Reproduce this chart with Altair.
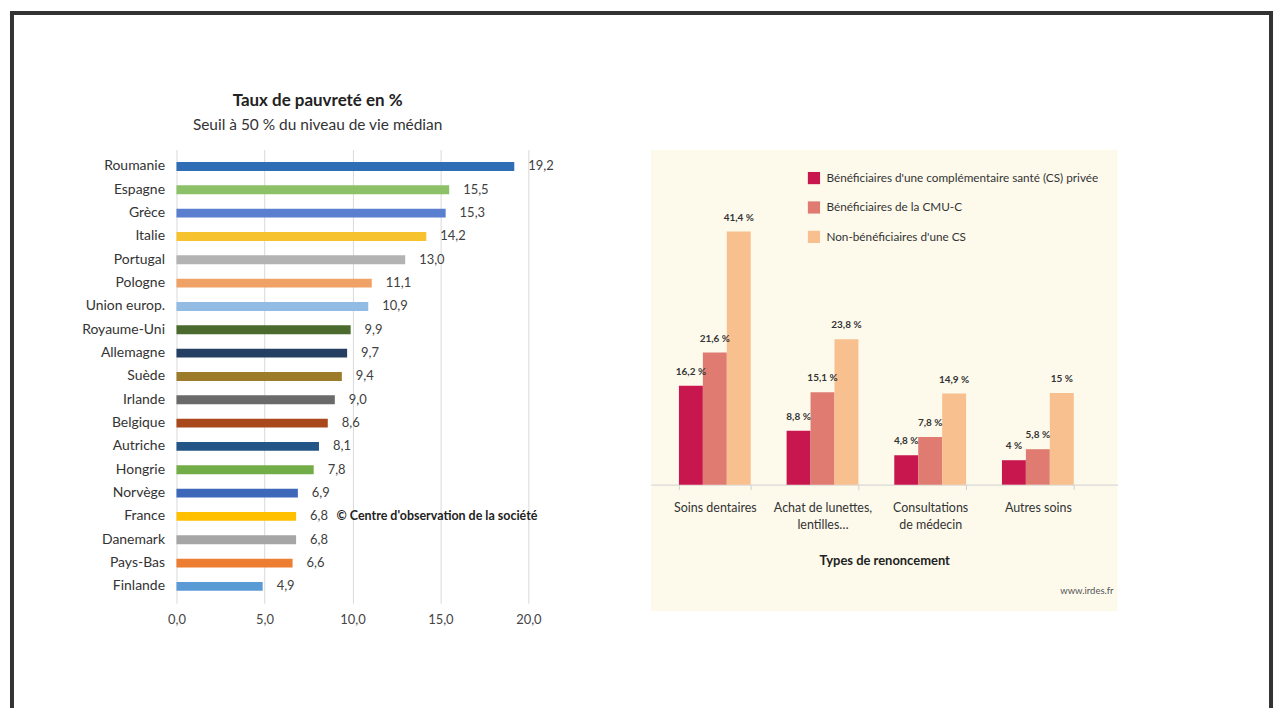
import altair as alt
import pandas as pd

# ---------------- Left chart data ----------------
countries = ["Roumanie", "Espagne", "Grèce", "Italie", "Portugal", "Pologne",
             "Union europ.", "Royaume-Uni", "Allemagne", "Suède", "Irlande",
             "Belgique", "Autriche", "Hongrie", "Norvège", "France", "Danemark",
             "Pays-Bas", "Finlande"]
poverty = [19.2, 15.5, 15.3, 14.2, 13.0, 11.1, 10.9, 9.9, 9.7, 9.4, 9.0,
           8.6, 8.1, 7.8, 6.9, 6.8, 6.8, 6.6, 4.9]
bar_colors = ["#2f6db5", "#8cc168", "#5b7fcf", "#f6c32f", "#b3b3b3", "#f0a266",
              "#92bce3", "#4b6a2e", "#253f62", "#9c7b2b", "#6a6a6a", "#a9491b",
              "#245587", "#73ad48", "#3d67b9", "#ffc000", "#a6a6a6", "#ed7d31",
              "#5b9bd5"]
x_ticks = [0, 5, 10, 15, 20]
left_title = "Taux de pauvreté en %"
left_subtitle = "Seuil à 50 % du niveau de vie médian"
copyright_text = "© Centre d'observation de la société"

# ---------------- Right chart data ----------------
types = ["Soins dentaires", "Achat de lunettes,\nlentilles…",
         "Consultations\nde médecin", "Autres soins"]
groups = ["Bénéficiaires d'une complémentaire santé (CS) privée",
          "Bénéficiaires de la CMU-C",
          "Non-bénéficiaires d'une CS"]
private_cs = [16.2, 8.8, 4.8, 4.0]
cmu_c = [21.6, 15.1, 7.8, 5.8]
non_cs = [41.4, 23.8, 14.9, 15.0]
private_lbl = ["16,2\u202f%", "8,8\u202f%", "4,8\u202f%", "4\u202f%"]
cmu_lbl = ["21,6\u202f%", "15,1\u202f%", "7,8\u202f%", "5,8\u202f%"]
non_lbl = ["41,4\u202f%", "23,8\u202f%", "14,9\u202f%", "15\u202f%"]
group_colors = ["#c8174f", "#e07b72", "#f8bf8f"]
source_text = "www.irdes.fr"

LFONT = "Lato"
RFONT = "Liberation Sans Narrow, Lato"

df_left = pd.DataFrame({"country": countries, "value": poverty, "color": bar_colors})
df_left["label"] = [f"{v:.1f}".replace(".", ",") for v in poverty]

y_enc = alt.Y("country:N", sort=countries,
              scale=alt.Scale(paddingInner=0.62, paddingOuter=0.53),
              axis=alt.Axis(title=None, domain=False, ticks=False, labelFont=LFONT,
                            labelFontSize=14, labelColor="#333333", labelPadding=12))

bars_l = alt.Chart(df_left).mark_bar().encode(
    y=y_enc,
    x=alt.X("value:Q", scale=alt.Scale(domain=[0, 20]),
            axis=alt.Axis(title=None, values=x_ticks, domain=False, ticks=False,
                          grid=True, gridColor="#d9d9d9", gridWidth=1, labelFlush=False,
                          labelExpr="replace(format(datum.value, '.1f'), '.', ',')",
                          labelFont=LFONT, labelFontSize=13, labelColor="#444444",
                          labelPadding=10)),
    color=alt.Color("color:N", scale=None),
)
text_l = alt.Chart(df_left).mark_text(align="left", dx=14, font=LFONT, fontSize=13,
                                      color="#404040").encode(
    y=alt.Y("country:N", sort=countries), x="value:Q", text="label:N")

df_copy = pd.DataFrame({"country": ["France"], "x": [9.1], "t": [copyright_text]})
copy_l = alt.Chart(df_copy).mark_text(align="left", font=LFONT, fontSize=12.5,
                                      fontWeight="bold", color="#222222").encode(
    y=alt.Y("country:N", sort=countries), x="x:Q", text="t:N")

left = alt.layer(bars_l, text_l, copy_l).properties(
    width=353, height=455,
    title=alt.TitleParams(left_title, subtitle=left_subtitle, font=LFONT, fontSize=17,
                          fontWeight="bold", color="#222222", subtitleFont=LFONT,
                          subtitleFontSize=15.5, subtitleColor="#333333",
                          subtitlePadding=8, offset=15, frame="bounds", anchor="middle"),
)

# ---------------- Right chart ----------------
rows = []
for g, vals, lbls in zip(groups, [private_cs, cmu_c, non_cs], [private_lbl, cmu_lbl, non_lbl]):
    for t, v, l in zip(types, vals, lbls):
        rows.append({"type": t, "group": g, "value": v, "label": l})
df_right = pd.DataFrame(rows)

x_r = alt.X("type:N", sort=types,
            scale=alt.Scale(paddingInner=0.333, paddingOuter=0.333, align=0.39),
            axis=alt.Axis(title="Types de renoncement", offset=-127,
                          domainColor="#cfcfcf", tickColor="#cfcfcf", tickBand="extent",
                          tickSize=5, labelAngle=0,
                          labelExpr="split(datum.label, '\\n')",
                          labelFont=RFONT, labelFontSize=12.5, labelColor="#333333",
                          labelLineHeight=17, labelPadding=12, labelBaseline="top",
                          titleFont=RFONT, titleFontSize=13, titleFontWeight="bold",
                          titleColor="#222222", titlePadding=24))
xo_r = alt.XOffset("group:N", sort=groups, scale=alt.Scale(paddingInner=0, paddingOuter=0))
y_r = alt.Y("value:Q", scale=alt.Scale(domain=[-20.7, 54.8]), axis=None)

bars_r = alt.Chart(df_right).mark_bar().encode(
    x=x_r, xOffset=xo_r, y=y_r,
    color=alt.Color("group:N", sort=groups,
                    scale=alt.Scale(domain=groups, range=group_colors),
                    legend=alt.Legend(title=None, orient="none", legendX=157, legendY=22,
                                      symbolType="square", symbolSize=150,
                                      symbolStrokeWidth=0, labelFont=RFONT,
                                      labelFontSize=11.8, labelColor="#333333",
                                      rowPadding=15.5, labelLimit=400, labelOffset=6)),
)
text_r = alt.Chart(df_right).mark_text(baseline="bottom", dy=-9, font=RFONT, fontSize=10,
                                       fontWeight="bold", color="#333333").encode(
    x=alt.X("type:N", sort=types), xOffset=xo_r, y=y_r, text="label:N")

src = alt.Chart(pd.DataFrame({"t": [source_text]})).mark_text(
    align="right", font=RFONT, fontSize=9.5, color="#555555").encode(
    text="t:N", x=alt.value(464), y=alt.value(443))

# slide frame (top, left and right edges), drawn around the whole page
frame_df = pd.DataFrame({"side": ["top", "left", "right"]})
frame_top = alt.Chart(frame_df.iloc[[0]]).mark_rule(color="#333333", strokeWidth=4).encode(
    x=alt.value(-643), x2=alt.value(624), y=alt.value(-137))
frame_left = alt.Chart(frame_df.iloc[[1]]).mark_rule(color="#333333", strokeWidth=4).encode(
    x=alt.value(-641), y=alt.value(-139), y2=alt.value(560))
frame_right = alt.Chart(frame_df.iloc[[2]]).mark_rule(color="#333333", strokeWidth=4).encode(
    x=alt.value(622), y=alt.value(-139), y2=alt.value(560))

right = alt.layer(bars_r, text_r, src, frame_top, frame_left, frame_right).properties(
    width=468, height=463,
    view=alt.ViewBackground(fill="#fdfaec", strokeWidth=0),
)

chart = alt.hconcat(left, right, spacing=123, bounds="flush").resolve_scale(
    color="independent", x="independent", y="independent"
).properties(
    padding={"left": 0, "top": 0, "right": 0, "bottom": 0},
).configure(background="white").configure_view(strokeWidth=0)

chart.save("out.html", embed_options={"renderer": "svg", "actions": False})
